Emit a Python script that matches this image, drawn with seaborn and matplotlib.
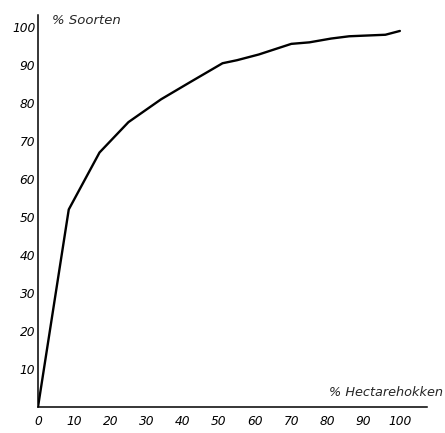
import matplotlib
matplotlib.use("Agg")
import matplotlib.pyplot as plt
import seaborn as sns
import pandas as pd

hectare_pct = [0, 8.5, 17, 25, 34, 42, 51, 55, 61, 70, 75, 81, 86, 96, 100]
soorten_pct = [0, 52, 67, 75, 81, 85.5, 90.5, 91.3, 92.8, 95.6, 96, 97, 97.6, 98, 99]
tick_values = [0, 10, 20, 30, 40, 50, 60, 70, 80, 90, 100]
y_tick_labels = ["", "10", "20", "30", "40", "50", "60", "70", "80", "90", "100"]
x_tick_labels = ["0", "10", "20", "30", "40", "50", "60", "70", "80", "90", "100"]

df = pd.DataFrame({"x": hectare_pct, "y": soorten_pct})

sns.set_style("white")
plt.rcParams["font.family"] = ["DejaVu Sans"]

fig = plt.figure(figsize=(4.45, 4.33), dpi=100)
ax = fig.add_axes([38/445, 1 - 407/433, (427-38)/445, (407-15)/433])

sns.lineplot(data=df, x="x", y="y", ax=ax, color="black", linewidth=1.7, estimator=None, sort=False)

ax.set_xlim(0, 107.5)
ax.set_ylim(0, 103.2)
ax.set_xticks(tick_values)
ax.set_xticklabels(x_tick_labels, fontstyle="italic", fontsize=8.8)
ax.set_yticks(tick_values)
ax.set_yticklabels(y_tick_labels, fontstyle="italic", fontsize=8.8)
ax.tick_params(axis="both", length=0, colors="black")
ax.tick_params(axis="x", pad=6)
ax.tick_params(axis="y", pad=2)
ax.set_xlabel("")
ax.set_ylabel("")
sns.despine(ax=ax)
for s in ["left", "bottom"]:
    ax.spines[s].set_color("black")
    ax.spines[s].set_linewidth(1.1)

fig.text(52/445, 1 - 20/433, "% Soorten", fontstyle="italic", fontsize=9.5, ha="left", va="center")
fig.text(443/445, 1 - 392/433, "% Hectarehokken", fontstyle="italic", fontsize=9.3, ha="right", va="center")

fig.savefig("out.png", dpi=100)
